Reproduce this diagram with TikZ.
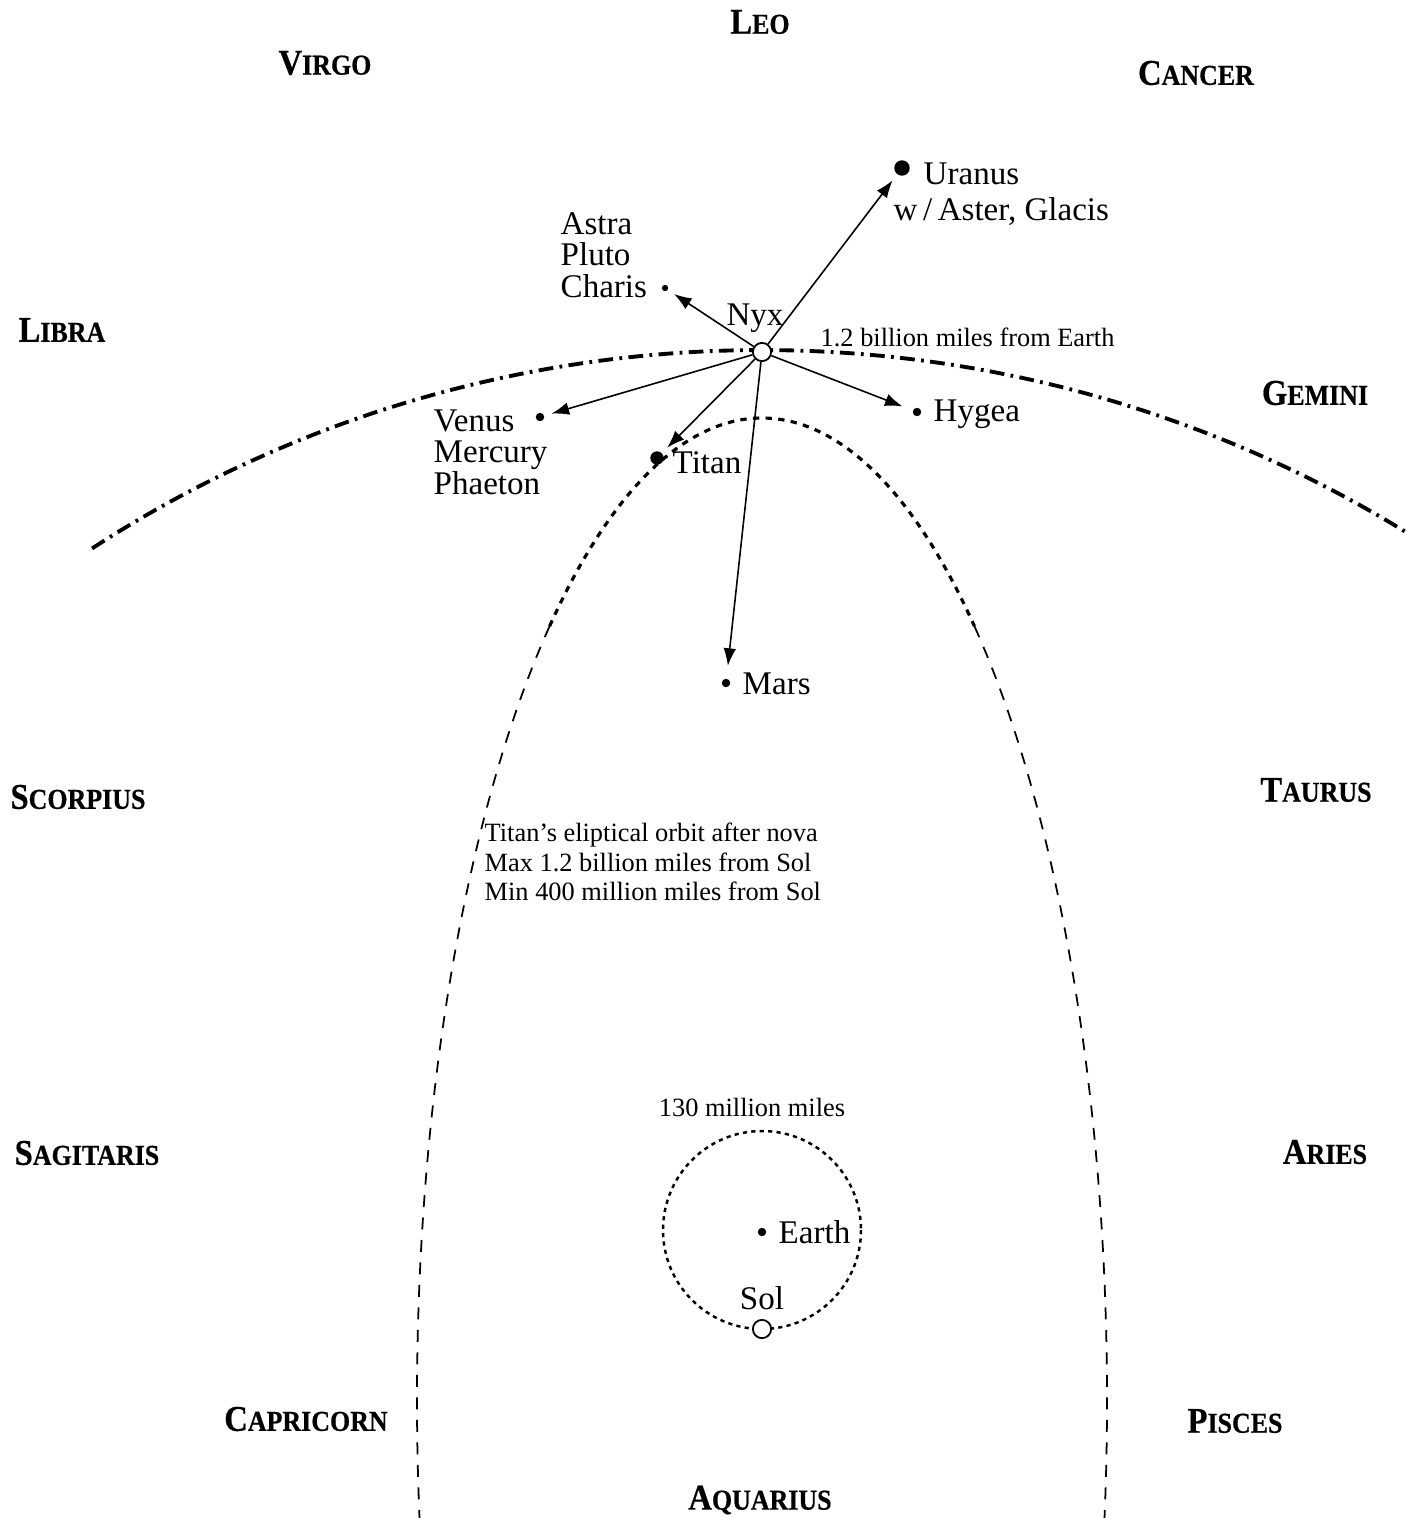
\documentclass[tikz,border=0pt]{standalone}
\usepackage{graphicx}
\usepackage{fontspec}
\setmainfont{Liberation Serif}
\newfontfamily\zodfont{Liberation Serif}[UprightFont={* Bold},FakeBold=0.6]
\usepackage{tikz}
\usetikzlibrary{positioning,arrows.meta}

\newcommand{\zodiac}[2]{\scalebox{0.9}[1]{\zodfont\fontsize{10.3}{11}\selectfont #1\fontsize{8.2}{9}\selectfont #2}}

\begin{document}
\begin{tikzpicture}[x=0.01cm,y=-0.01cm]
  \tikzstyle{planet}=[circle,fill=black,inner sep=0pt,minimum size=2.4pt]
  \tikzstyle{giant}=[circle,fill=black,inner sep=0pt,minimum size=4.4pt]
  \tikzstyle{sun}=[circle,draw=black,fill=white,inner sep=0pt,minimum size=5.2pt,line width=0.5pt]
  \tikzstyle{body}=[inner sep=0pt,align=left,font=\fontsize{9.4}{9}\selectfont]
  \tikzstyle{note}=[inner sep=0pt,align=left,font=\fontsize{7.5}{8.4}\selectfont]
  \tikzstyle{zod}=[inner sep=0pt]
  \tikzstyle{flight}=[-{Latex[length=5pt,width=3.6pt]},line width=0.45pt,shorten >=2pt]
  \tikzstyle{ecliptic}=[line width=1.1pt,dash pattern=on 4.2pt off 1.8pt on 0.8pt off 1.8pt]
  \tikzstyle{orbit}=[line width=0.5pt,dash pattern=on 3.4pt off 3pt]
  \tikzstyle{innerorbit}=[line width=0.9pt,dash pattern=on 1.8pt off 1.8pt]
  \tikzstyle{earthorbit}=[line width=0.7pt,dash pattern=on 1.2pt off 1.2pt]

  \useasboundingbox (0,0) rectangle (1406,1518);

  % orbits
  \coordinate (c) at (762,1580);
  \draw[ecliptic] ([shift={(237:1230)}]c) arc[start angle=237,end angle=301.5,radius=1230];
  \coordinate (t) at (762,1400);
  \draw[innerorbit] ([shift={(232:345 and 982)}]t) arc[start angle=232,end angle=308,x radius=345,y radius=982];
  \draw[orbit] ([shift={(232:345 and 982)}]t) arc[start angle=232,end angle=173,x radius=345,y radius=982];
  \draw[orbit] ([shift={(308:345 and 982)}]t) arc[start angle=308,end angle=367,x radius=345,y radius=982];
  \draw[earthorbit] (762,1230) circle [radius=99];

  % bodies
  \node[sun] (nyx) at (762,352) {};
  \node[giant] (uranus) at (902,168) {};
  \node[planet,minimum size=1.8pt] (charis) at (665,288) {};
  \node[planet] (venus) at (540,417) {};
  \node[giant,minimum size=3.8pt] (titan) at (657,458) {};
  \node[planet] (hygea) at (917,412) {};
  \node[planet] (mars) at (726,683) {};
  \node[planet] (earth) at (762,1232) {};
  \node[sun] (sol) at (762,1329) {};

  \draw[flight] (nyx) -- (uranus);
  \draw[flight] (nyx) -- (charis);
  \draw[flight] (nyx) -- (venus);
  \draw[flight] (nyx) -- (titan);
  \draw[flight,shorten >=3pt] (nyx) -- (hygea);
  \draw[flight,shorten >=3.5pt] (nyx) -- (mars);

  % labels
  \node[body] (nyxlbl) at (755,318) {Nyx};
  \node[note,anchor=west] (dist) at (820,337) {1.2 billion miles from Earth};
  \node[body,anchor=west] (uranuslbl) at (923,174) {Uranus};
  \node[body,anchor=west] (moonlbl) at (893,212) {w\,/\,Aster, Glacis};
  \node[body,anchor=west] (charislbl) at (560,255) {Astra\\Pluto\\Charis};
  \node[body,anchor=west] (venuslbl) at (433,452) {Venus\\Mercury\\Phaeton};
  \node[body,anchor=west] (titanlbl) at (672,463) {Titan};
  \node[body,anchor=west] (hygealbl) at (933,414) {Hygea};
  \node[body,anchor=west] (marslbl) at (742,684) {Mars};
  \node[note,anchor=west] (orbitlbl) at (484,862) {Titan’s eliptical orbit after nova\\Max 1.2 billion miles from Sol\\Min 400 million miles from Sol};
  \node[note] (aulbl) at (752,1107) {130 million miles};
  \node[body,anchor=west] (earthlbl) at (778,1232) {Earth};
  \node[body] (sollbl) at (762,1298) {Sol};

  % zodiac
  \node[zod] (leo) at (760,22) {\zodiac{L}{EO}};
  \node[zod] (virgo) at (325,63) {\zodiac{V}{IRGO}};
  \node[zod] (cancer) at (1196,73) {\zodiac{C}{ANCER}};
  \node[zod] (libra) at (62,330) {\zodiac{L}{IBRA}};
  \node[zod] (gemini) at (1315,393) {\zodiac{G}{EMINI}};
  \node[zod] (scorpius) at (78,797) {\zodiac{S}{CORPIUS}};
  \node[zod] (taurus) at (1316,790) {\zodiac{T}{AURUS}};
  \node[zod] (sagitaris) at (87,1153) {\zodiac{S}{AGITARIS}};
  \node[zod] (aries) at (1325,1152) {\zodiac{A}{RIES}};
  \node[zod] (capricorn) at (306,1419) {\zodiac{C}{APRICORN}};
  \node[zod] (pisces) at (1235,1421) {\zodiac{P}{ISCES}};
  \node[zod] (aquarius) at (760,1500) {\zodiac{A}{QUARIUS}};
\end{tikzpicture}
\end{document}
